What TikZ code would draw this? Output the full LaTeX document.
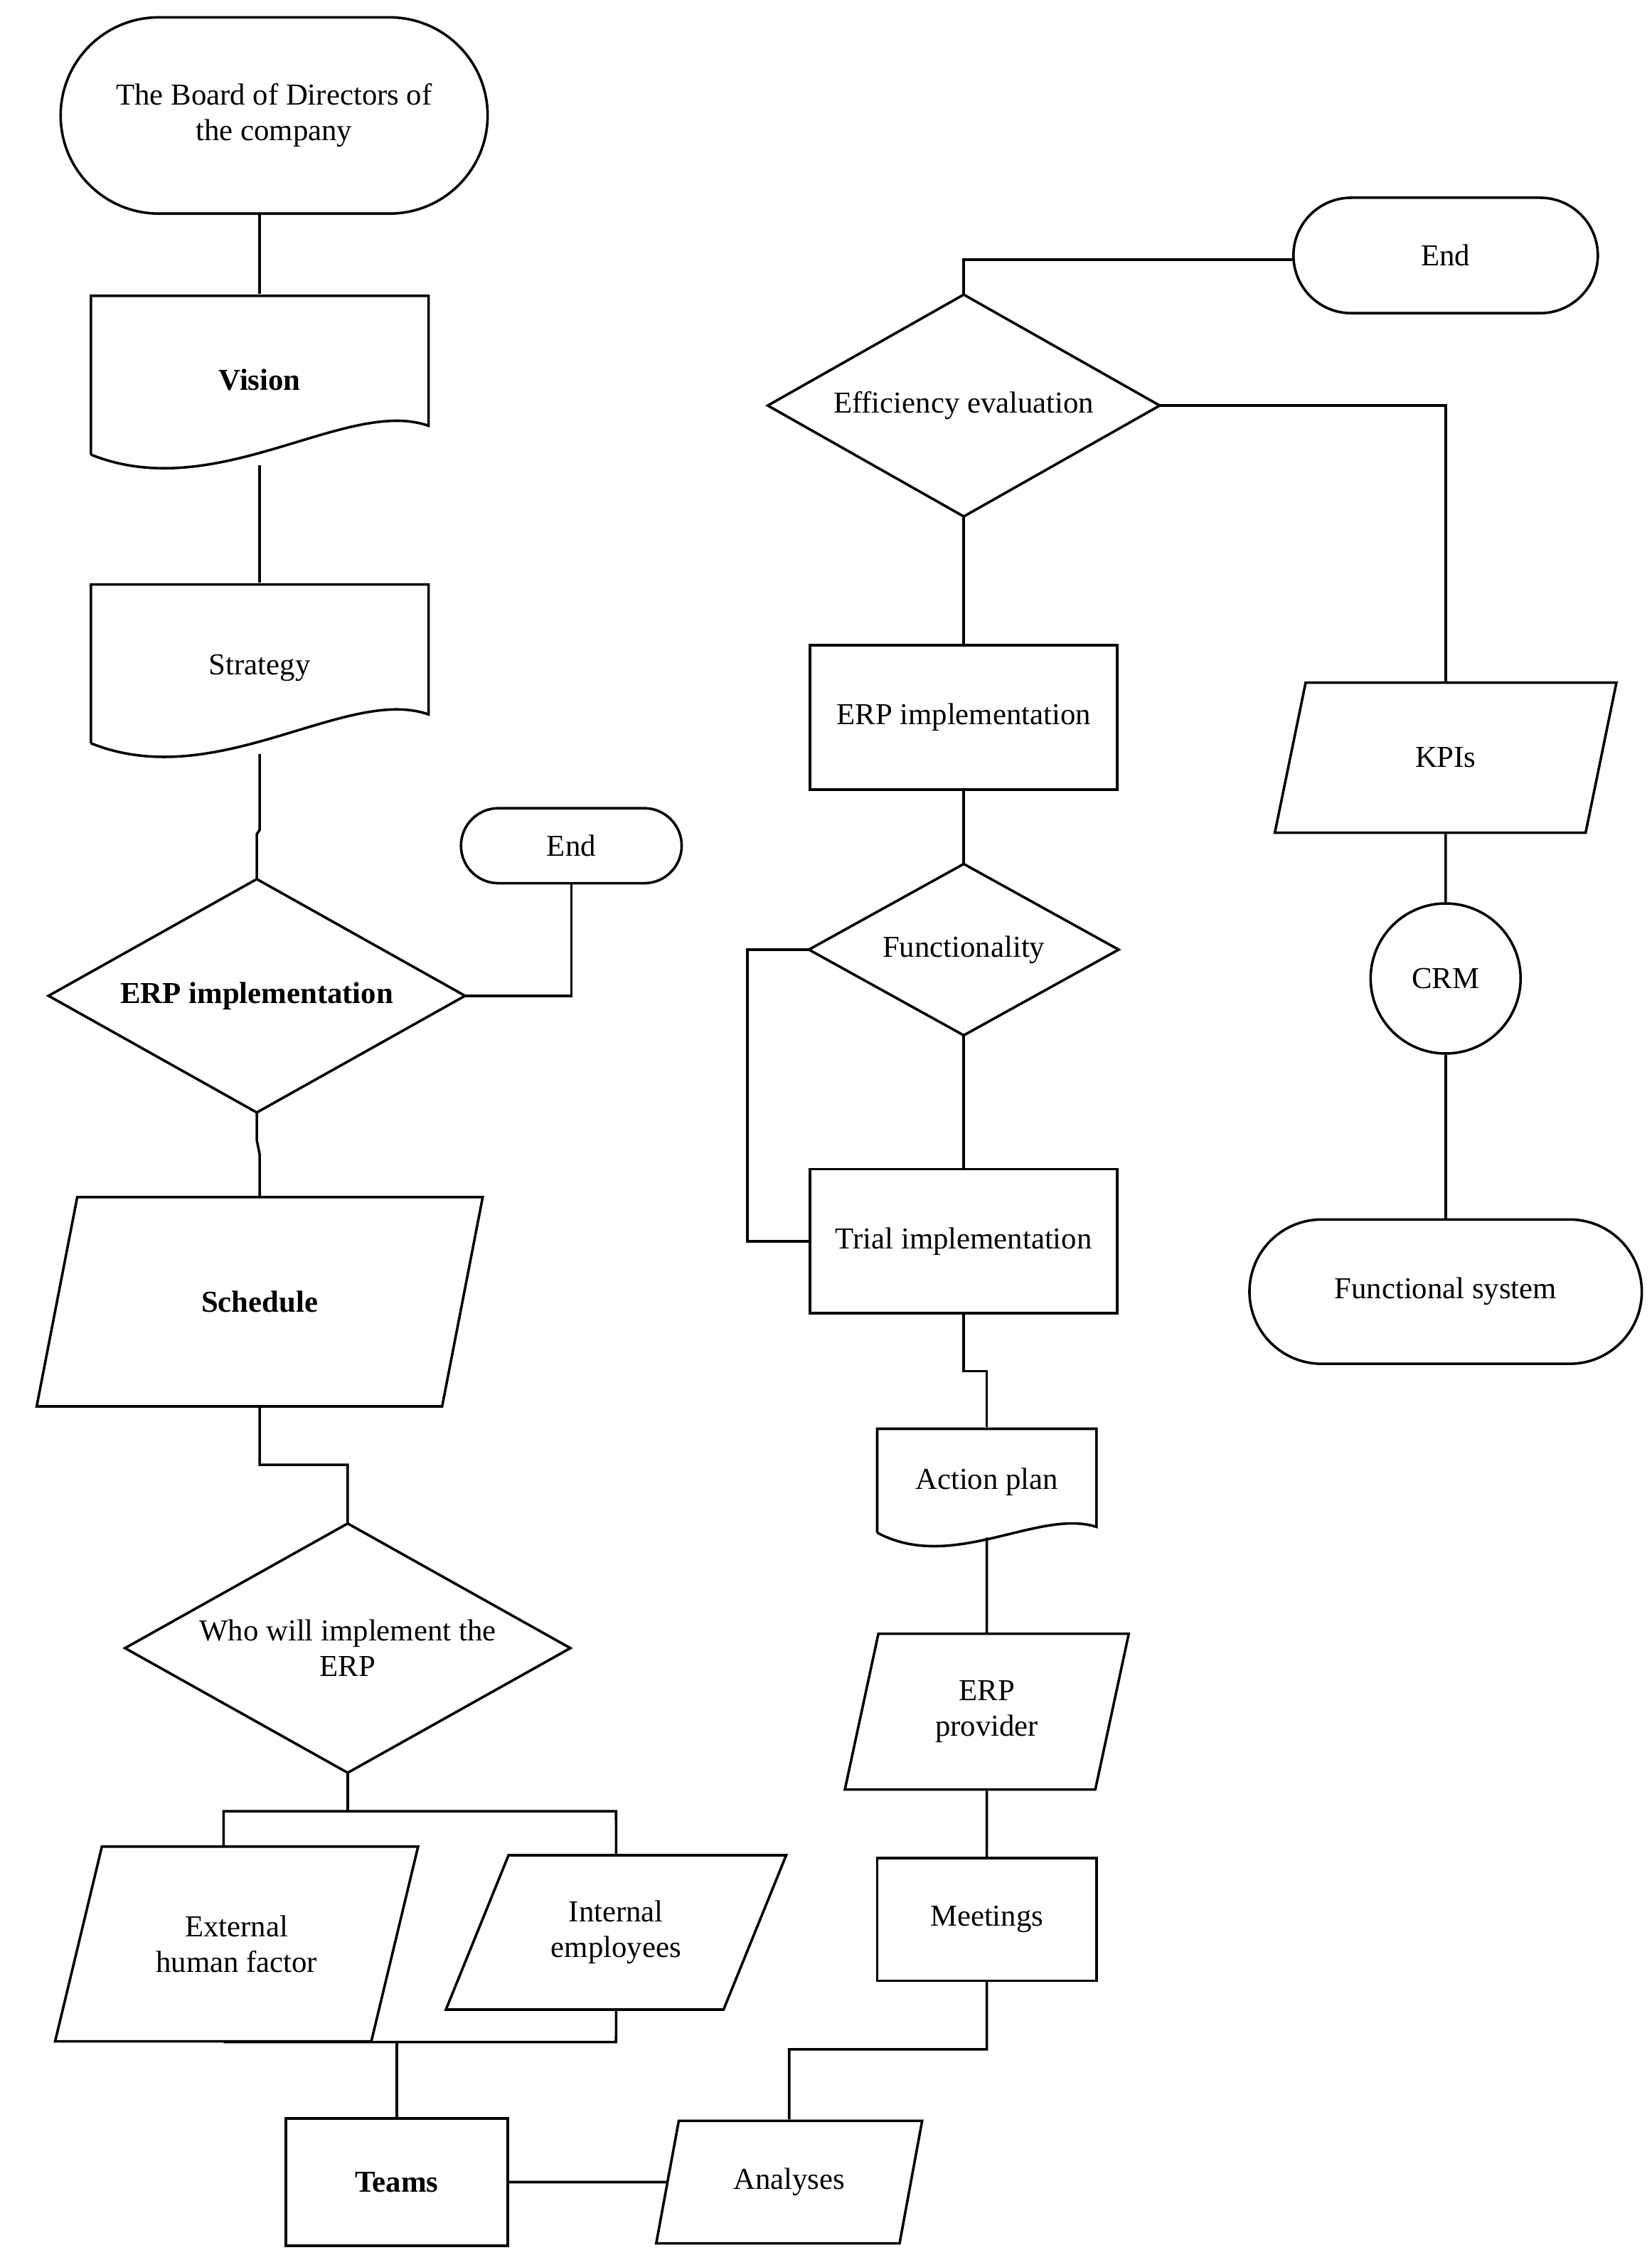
\documentclass[tikz,border=0pt]{standalone}
\usepackage{fontspec}
\setmainfont{Liberation Serif}
\usetikzlibrary{shapes.geometric}
\begin{document}
\begin{tikzpicture}[x=0.02cm,y=-0.02cm,line width=1pt,
  every node/.style={font=\fontsize{12}{14}\selectfont,align=center,inner sep=1pt},
  term/.style={draw,rectangle,rounded corners=#1},
  box/.style={draw,rectangle},
  dia/.style={rectangle,inner sep=0pt},
  para/.style={draw,trapezium,trapezium stretches=true,trapezium left angle=#1,trapezium right angle=180-#1}]
\useasboundingbox (0,0) rectangle (1145,1566);
\newcommand\mydia[1]{\draw (#1.north) -- (#1.east) -- (#1.south) -- (#1.west) -- cycle;}
% left column
\node[term=1.36cm,minimum width=5.92cm,minimum height=2.72cm] (board) at (190,80) {The Board of Directors of\\the company};
\node[minimum width=4.68cm,minimum height=2.34cm] (vision) at (180,263) {\textbf{Vision}};
\draw (63,315) -- (63,205) -- (297,205) -- (297,295) .. controls (240,275) and (150,350) .. (63,315);
\node[minimum width=4.68cm,minimum height=2.34cm] (strategy) at (180,463) {Strategy};
\draw (63,515) -- (63,405) -- (297,405) -- (297,495) .. controls (240,475) and (150,550) .. (63,515);
\node[dia,minimum width=5.74cm,minimum height=3.2cm] (erp1) at (178,690) {\textbf{ERP implementation}};
\mydia{erp1}
\node[term=0.52cm,minimum width=3.06cm,minimum height=1.04cm] (end1) at (396,586) {End};
\node[para=63,minimum width=6.2cm,minimum height=2.9cm] (sched) at (180,902) {\textbf{Schedule}};
\node[dia,minimum width=6.14cm,minimum height=3.42cm] (who) at (241,1142) {Who will implement the\\ERP};
\mydia{who}
\node[para=65,minimum width=5.04cm,minimum height=2.7cm] (ext) at (164,1347) {External\\human factor};
\node[para=60,minimum width=4.74cm,minimum height=2.14cm] (int) at (427,1339) {Internal\\employees};
\node[box,minimum width=3.08cm,minimum height=1.76cm] (teams) at (275,1512) {\textbf{Teams}};
\node[para=70,minimum width=3.7cm,minimum height=1.7cm] (anal) at (547,1512) {Analyses};
% middle column
\node[box,minimum width=3.04cm,minimum height=1.7cm] (meet) at (684,1330) {Meetings};
\node[para=76,minimum width=3.94cm,minimum height=2.16cm] (prov) at (684,1186) {ERP\\provider};
\node[minimum width=3.04cm,minimum height=1.5cm] (plan) at (684,1027) {Action plan};
\draw (608,1062) -- (608,990) -- (760,990) -- (760,1058) .. controls (720,1045) and (660,1090) .. (608,1062);
\node[box,minimum width=4.26cm,minimum height=2cm] (trial) at (668,860) {Trial implementation};
\node[dia,minimum width=4.26cm,minimum height=2.34cm] (func) at (668,658) {Functionality};
\mydia{func}
\node[box,minimum width=4.26cm,minimum height=2cm] (erp2) at (668,497) {ERP implementation};
\node[dia,minimum width=5.4cm,minimum height=3.04cm] (eff) at (668,281) {Efficiency evaluation};
\mydia{eff}
\node[term=0.8cm,minimum width=4.22cm,minimum height=1.6cm] (end2) at (1002,177) {End};
% right column
\node[para=74,minimum width=4.74cm,minimum height=2.08cm] (kpi) at (1002,525) {KPIs};
\node[draw,circle,minimum size=2.08cm] (crm) at (1002,678) {CRM};
\node[term=1cm,minimum width=5.44cm,minimum height=2cm] (fs) at (1002,895) {Functional system};
% connectors
\draw (board.south -| vision.north) -- (vision.north);
\draw (vision.south) -- (strategy.north);
\coordinate (s1) at (180,575); \coordinate (s2) at (178,578);
\draw (strategy.south) -- (s1) -- (s2) -- (erp1.north);
\draw (erp1.east) -| (end1.south);
\coordinate (e3) at (178,790); \coordinate (e4) at (180,800);
\draw (erp1.south) -- (e3) -- (e4) -- (sched.north);
\coordinate (c1) at (180,1015); \coordinate (c2) at (241,1015);
\draw (sched.south) -- (c1) -- (c2) -- (who.north);
\coordinate (w1) at (241,1255); \coordinate (w2) at (155,1255); \coordinate (w3) at (427,1255);
\draw (who.south) -- (w1);
\draw (ext.north -| w2) -- (w2) -- (w3) -- (int.north);
\coordinate (b1) at (155,1415); \coordinate (b2) at (427,1415); \coordinate (b3) at (275,1415);
\draw (b1) -- (b2) -- (int.south);
\draw (b3) -- (teams.north);
\draw (teams.east) -- (anal.west);
\coordinate (a1) at (547,1420); \coordinate (a2) at (684,1420);
\draw (anal.north) -- (a1) -- (a2) -- (meet.south);
\draw (meet.north) -- (prov.south);
\draw (prov.north) -- (plan.south);
\coordinate (p1) at (684,950); \coordinate (p2) at (668,950);
\draw (plan.north) -- (p1) -- (p2) -- (trial.south);
\draw (trial.north) -- (func.south);
\coordinate (f1) at (518,658); \coordinate (f2) at (518,860);
\draw (func.west) -- (f1) -- (f2) -- (trial.west);
\draw (func.north) -- (erp2.south);
\draw (erp2.north) -- (eff.south);
\coordinate (e1) at (668,180);
\draw (eff.north) -- (e1) -- (end2.west |- e1);
\draw (eff.east) -| (kpi.north);
\draw (kpi.south) -- (crm.north);
\draw (crm.south) -- (fs.north);
\end{tikzpicture}
\end{document}
